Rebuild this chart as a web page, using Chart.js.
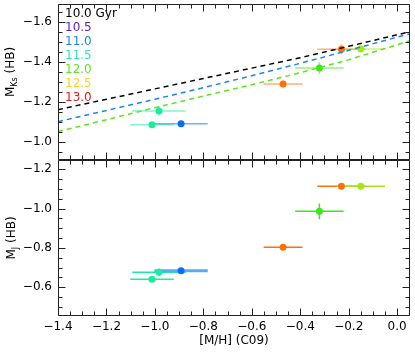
<!DOCTYPE html>
<html>
<head>
<meta charset="utf-8">
<script src="https://cdn.jsdelivr.net/npm/chart.js@4.4.0/dist/chart.umd.min.js"></script>
<style>
html, body { margin: 0; padding: 0; background: #fff; }
</style>
</head>
<body>
<canvas id="c" width="415" height="356"></canvas>
<script>
// legend ages
const ages = ['10.0 Gyr', '10.5', '11.0', '11.5', '12.0', '12.5', '13.0']
const ageColors = ['#000000', '#5a22c8', '#1f86e6', '#2fe6c4', '#62e31f', '#ffd21c', '#e0201c']

// isochrone HB magnitudes (top panel, dashed)
const lineMH = [-1.4, -1.2, -1.0, -0.8, -0.6, -0.4, -0.2, 0.0, 0.053]
const iso100 = [-1.16, -1.212, -1.264, -1.316, -1.368, -1.42, -1.477, -1.535, -1.55]
const iso110 = [-1.10, -1.156, -1.212, -1.27, -1.33, -1.392, -1.457, -1.523, -1.54]
const iso120 = [-1.05, -1.11, -1.17, -1.228, -1.285, -1.345, -1.41, -1.485, -1.505]

// clusters
const clusterMH = [-0.983, -1.012, -0.892, -0.471, -0.321, -0.23, -0.15]
const clusterMHerr = [0.11, 0.09, 0.11, 0.08, 0.10, 0.10, 0.10]
const clusterMKs = [-1.153, -1.085, -1.09, -1.289, -1.369, -1.462, -1.464]
const clusterMKsErr = [0.025, 0.01, 0.01, 0.01, 0.03, 0.025, 0.01]
const clusterMJ = [-0.676, -0.641, -0.684, -0.803, -0.986, -1.113, -1.113]
const clusterMJErr = [0.02, 0.01, 0.01, 0.01, 0.04, 0.015, 0.01]
const clusterColors = ['#19eea0', '#19eea0', '#0a6cff', '#ff6f0a', '#3ee61e', '#ff6f0a', '#a6e618']

const xTicks = [-1.4, -1.2, -1.0, -0.8, -0.6, -0.4, -0.2, 0.0]
const yTopTicks = [-1.6, -1.4, -1.2, -1.0]
const yBotTicks = [-1.2, -1.0, -0.8, -0.6]

const FONT = 'DejaVu Sans'

function fmt(v) {
    return (v < -1e-9 ? '\u2212' : '') + Math.abs(v).toFixed(1)
}

function pts(xs, ys) {
    return xs.map((x, i) => ({x: x, y: ys[i]}))
}

function noPad(s) {
    s.paddingTop = 0
    s.paddingBottom = 0
    s.paddingLeft = 0
    s.paddingRight = 0
}

// error bars, drawn before the points
const errorBars = {
    id: 'errorBars',
    beforeDatasetsDraw(chart) {
        const ctx = chart.ctx
        const xs = chart.scales.x
        ctx.save()
        chart.data.datasets.forEach(ds => {
            if (!ds.errX) return
            const ys = chart.scales[ds.yAxisID]
            ds.data.forEach((p, i) => {
                const px = xs.getPixelForValue(p.x)
                const py = ys.getPixelForValue(p.y)
                ctx.strokeStyle = ds.errColor[i]
                ctx.globalAlpha = ds.errAlpha[i]
                ctx.lineWidth = ds.errWidth[i]
                ctx.beginPath()
                ctx.moveTo(xs.getPixelForValue(p.x - ds.errX[i]), py)
                ctx.lineTo(xs.getPixelForValue(p.x + ds.errX[i]), py)
                ctx.moveTo(px, ys.getPixelForValue(p.y - ds.errY[i]))
                ctx.lineTo(px, ys.getPixelForValue(p.y + ds.errY[i]))
                ctx.stroke()
            })
        })
        ctx.restore()
    }
}

// frame, inward ticks, titles and age labels
const frame = {
    id: 'frame',
    afterDraw(chart) {
        const ctx = chart.ctx
        const xs = chart.scales.x
        ctx.save()
        ctx.strokeStyle = '#222'
        ctx.lineWidth = 1
        const seg = (x1, y1, x2, y2) => { ctx.moveTo(x1, y1); ctx.lineTo(x2, y2) }
        for (const id of ['yTop', 'yBot']) {
            const ys = chart.scales[id]
            const L = Math.round(xs.left) + 0.5, R = Math.round(xs.right) - 0.5
            const T = Math.round(ys.top) + 0.5, B = Math.round(ys.bottom) - 0.5
            ctx.beginPath()
            ctx.rect(L, T, R - L, B - T)
            for (let k = Math.ceil(xs.min / 0.05 - 1e-6); k * 0.05 <= xs.max + 1e-6; k++) {
                const px = Math.round(xs.getPixelForValue(k * 0.05)) + 0.5
                const len = k % 4 == 0 ? 7 : 4
                seg(px, B, px, B - len)
                seg(px, T, px, T + len)
            }
            for (let k = Math.ceil(ys.min / 0.05 - 1e-6); k * 0.05 <= ys.max + 1e-6; k++) {
                const py = Math.round(ys.getPixelForValue(k * 0.05)) + 0.5
                const len = k % 4 == 0 ? 7 : 4
                seg(L, py, L + len, py)
                seg(R, py, R - len, py)
            }
            ctx.stroke()
        }

        // x title
        ctx.fillStyle = '#000'
        ctx.font = '12px ' + FONT
        ctx.textAlign = 'center'
        ctx.textBaseline = 'middle'
        ctx.fillText('[M/H] (C09)', (xs.left + xs.right) / 2, 341)

        // y titles with subscript
        const yTitle = (sub, cx, cy) => {
            ctx.save()
            ctx.translate(cx, cy)
            ctx.rotate(-Math.PI / 2)
            ctx.textAlign = 'left'
            ctx.textBaseline = 'middle'
            ctx.font = '12px ' + FONT
            const w1 = ctx.measureText('M').width
            const w3 = ctx.measureText(' (HB)').width
            ctx.font = '8px ' + FONT
            const w2 = ctx.measureText(sub).width
            let x = -(w1 + w2 + w3) / 2
            ctx.font = '12px ' + FONT
            ctx.fillText('M', x, 0)
            x += w1
            ctx.font = '8px ' + FONT
            ctx.fillText(sub, x, 4)
            x += w2
            ctx.font = '12px ' + FONT
            ctx.fillText(' (HB)', x, 0)
            ctx.restore()
        }
        yTitle('Ks', 11, 72)
        yTitle('J', 12, (chart.scales.yBot.top + chart.scales.yBot.bottom) / 2)

        // ages
        ctx.font = '12px ' + FONT
        ctx.textAlign = 'left'
        ctx.textBaseline = 'middle'
        ages.forEach((a, i) => {
            ctx.fillStyle = ageColors[i]
            ctx.fillText(a, 65, 13.5 + i * 14)
        })
        ctx.restore()
    }
}

function dashed(data, color) {
    return {
        type: 'line',
        data: data,
        yAxisID: 'yTop',
        borderColor: color,
        borderWidth: 1.5,
        borderDash: [5, 4],
        pointRadius: 0,
        fill: false,
        tension: 0
    }
}

const topErrColor = clusterColors.slice()
const botErrColor = clusterColors.map((c, i) => i == 2 ? '#5aaaf0' : c)

const yTickOpts = {
    padding: 6,
    color: '#000',
    font: { family: FONT, size: 12 },
    callback: v => fmt(v)
}

const config = {
    type: 'scatter',
    data: {
        datasets: [
            dashed(pts(lineMH, iso100), ageColors[0]),
            dashed(pts(lineMH, iso110), ageColors[2]),
            dashed(pts(lineMH, iso120), ageColors[4]),
            {
                data: pts(clusterMH, clusterMKs),
                yAxisID: 'yTop',
                pointRadius: 3.5,
                pointBorderWidth: 0,
                pointBackgroundColor: clusterColors,
                errX: clusterMHerr,
                errY: clusterMKsErr,
                errColor: topErrColor,
                errAlpha: clusterColors.map(() => 0.55),
                errWidth: clusterColors.map(() => 1.5)
            },
            {
                data: pts(clusterMH, clusterMJ),
                yAxisID: 'yBot',
                pointRadius: 3.5,
                pointBorderWidth: 0,
                pointBackgroundColor: clusterColors,
                errX: clusterMHerr,
                errY: clusterMJErr,
                errColor: botErrColor,
                errAlpha: clusterColors.map(() => 1),
                errWidth: clusterColors.map((c, i) => i == 2 ? 3 : 1.5)
            }
        ]
    },
    options: {
        responsive: false,
        animation: false,
        devicePixelRatio: 1,
        layout: { padding: { top: 4, right: 5, left: 0, bottom: 0 } },
        plugins: { legend: { display: false }, tooltip: { enabled: false } },
        scales: {
            x: {
                type: 'linear',
                position: 'bottom',
                min: -1.4,
                max: 0.053,
                grid: { display: false, drawTicks: false },
                border: { display: false },
                afterBuildTicks: s => { s.ticks = xTicks.map(v => ({value: v})) },
                afterFit: s => { s.height = 40; noPad(s) },
                ticks: {
                    autoSkip: false,
                    maxRotation: 0,
                    padding: 4,
                    color: '#000',
                    font: { family: FONT, size: 12 },
                    callback: v => fmt(v)
                }
            },
            yBot: {
                type: 'linear',
                position: 'left',
                stack: 'panels',
                stackWeight: 1,
                reverse: true,
                min: -1.247,
                max: -0.454,
                grid: { display: false, drawTicks: false },
                border: { display: false },
                afterBuildTicks: s => { s.ticks = yBotTicks.map(v => ({value: v})) },
                afterFit: s => { s.width = 58; noPad(s) },
                ticks: yTickOpts
            },
            yTop: {
                type: 'linear',
                position: 'left',
                stack: 'panels',
                stackWeight: 1,
                reverse: true,
                min: -1.689,
                max: -0.908,
                grid: { display: false, drawTicks: false },
                border: { display: false },
                afterBuildTicks: s => { s.ticks = yTopTicks.map(v => ({value: v})) },
                afterFit: s => { s.width = 58; noPad(s) },
                ticks: yTickOpts
            }
        }
    },
    plugins: [errorBars, frame]
}

new Chart(document.getElementById('c'), config)
</script>
</body>
</html>
